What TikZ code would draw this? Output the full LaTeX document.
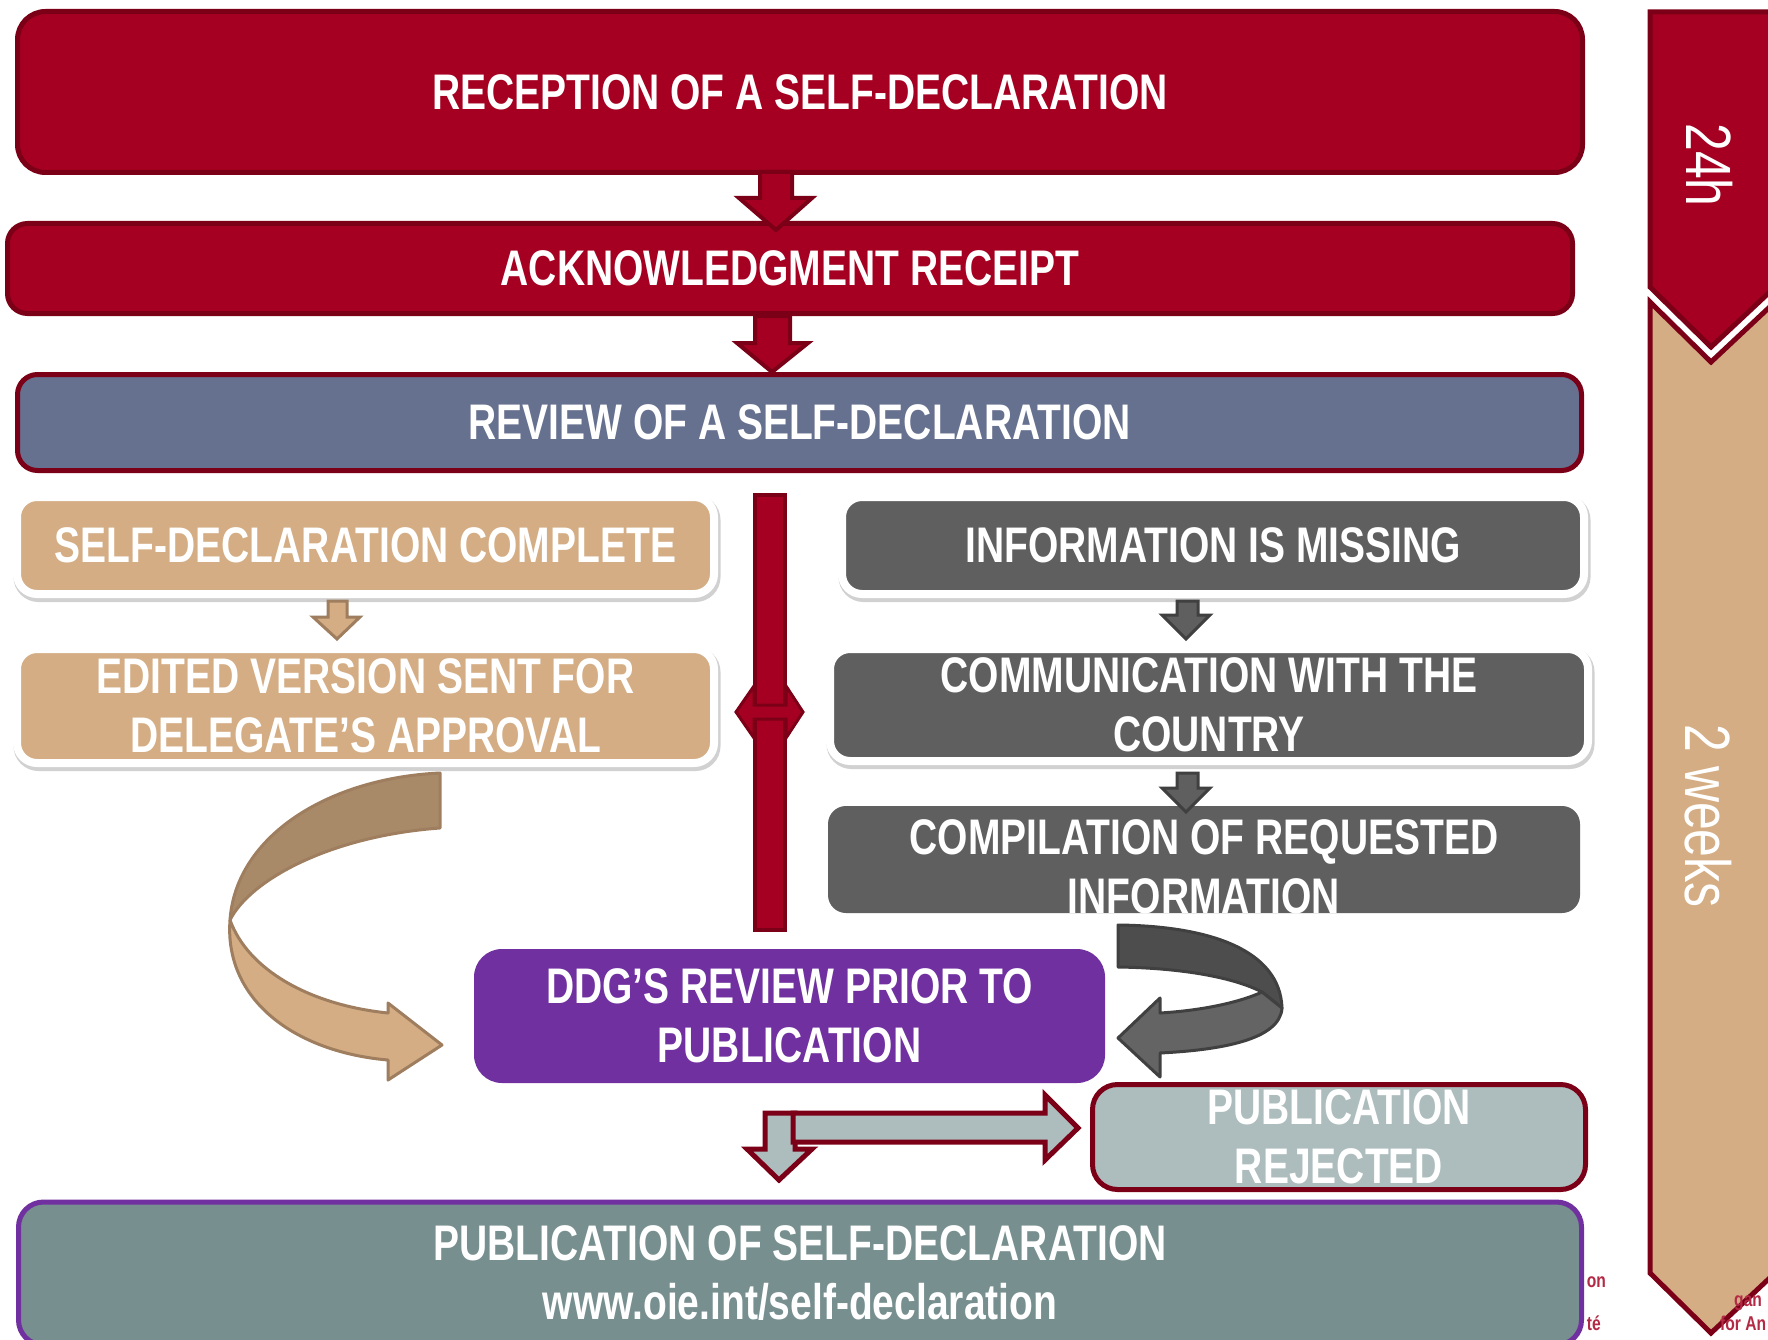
\documentclass[tikz,border=0pt]{standalone}
\usepackage{fontspec}
\newfontfamily\nf[FakeStretch=0.78]{Liberation Sans}
\usetikzlibrary{calc}
\definecolor{oiered}{HTML}{A50021}
\definecolor{oiedark}{HTML}{7B0017}
\definecolor{slate}{HTML}{66708F}
\definecolor{tanf}{HTML}{D4AD84}
\definecolor{tandk}{HTML}{A88968}
\definecolor{tanbd}{HTML}{9E7E5E}
\definecolor{grayf}{HTML}{5F5F5F}
\definecolor{graydk}{HTML}{4D4D4D}
\definecolor{graylt}{HTML}{646464}
\definecolor{graybd}{HTML}{404040}
\definecolor{ddgpurple}{HTML}{7030A0}
\definecolor{rejf}{HTML}{ADBCBC}
\definecolor{pubf}{HTML}{778F8F}
\definecolor{logored}{HTML}{B22A45}
\tikzset{
  lbl/.style={text=white, align=center, inner sep=0pt, outer sep=0pt,
    font=\nf\bfseries\fontsize{50}{59}\selectfont},
  redbox/.style={lbl, rectangle, draw=oiedark, line width=5pt, fill=oiered},
  revbox/.style={lbl, rectangle, draw=oiedark, line width=5pt, fill=slate, rounded corners=20pt},
  softbox/.style={lbl, rectangle, draw=white, line width=8pt, rounded corners=20pt,
    preaction={draw=black!18, line width=10pt, transform canvas={xshift=1.5pt, yshift=-3pt}}},
  tanbox/.style={softbox, fill=tanf},
  graybox/.style={softbox, fill=grayf},
  plaingray/.style={lbl, rectangle, fill=grayf, rounded corners=18pt},
  ddgbox/.style={lbl, rectangle, fill=ddgpurple, rounded corners=28pt},
  rejbox/.style={lbl, rectangle, fill=rejf, draw=oiedark, line width=5pt, rounded corners=25pt},
  pubbox/.style={lbl, rectangle, fill=pubf, draw=ddgpurple, line width=5pt, rounded corners=25pt},
  blockred/.style={fill=oiered, draw=oiedark, line width=4pt, line join=miter},
  blocktan/.style={fill=tanf, draw=tanbd, line width=3pt, line join=miter},
  blockgray/.style={fill=grayf, draw=graybd, line width=3pt, line join=miter},
  blockrej/.style={fill=rejf, draw=oiedark, line width=5pt, line join=miter},
  chev/.style={line width=5pt, draw=oiedark, line join=miter},
  vtext/.style={text=white, inner sep=0pt, rotate=-90, font=\nf\fontsize{64}{64}\selectfont},
  logo/.style={text=logored, inner sep=0pt, font=\nf\bfseries\fontsize{20}{22}\selectfont}
}
\begin{document}
\begin{tikzpicture}[x=1pt,y=-1pt]
\useasboundingbox (0,0) rectangle (1768,1340);
\fill[white] (0,0) rectangle (1768,1340);

% timeline chevrons
\filldraw[chev, fill=tanf] (1650,302) -- (1711,362) -- (1775,302) -- (1775,1273)
  -- (1711,1333) -- (1650,1273) -- cycle;
\filldraw[chev, fill=oiered] (1650,12) -- (1775,12) -- (1775,287) -- (1711,347)
  -- (1650,287) -- cycle;
\node[vtext] (h24) at (1710,165) {24h};
\node[vtext] (wk2) at (1708,816) {2 weeks};

% logo fragments
\node[logo, anchor=base east] (lg1) at (1606,1287) {on};
\node[logo, anchor=base east] (lg2) at (1601,1330) {té};
\node[logo, anchor=base west] (lg3) at (1734,1306) {gan};
\node[logo, anchor=base west] (lg4) at (1720,1330) {for An};

% top boxes
\node[redbox, rounded corners=28pt, minimum width=1565pt, minimum height=161pt]
  (rec) at (800,92) {RECEPTION OF A SELF-DECLARATION};
\node[redbox, rounded corners=20pt, minimum width=1565pt, minimum height=90pt]
  (ack) at (790,268.5) {ACKNOWLEDGMENT RECEIPT};
\node[revbox, minimum width=1564pt, minimum height=96pt]
  (rev) at (799.5,422.5) {REVIEW OF A SELF-DECLARATION};

% red block arrows
\filldraw[blockred] (760,172) -- (792,172) -- (792,198) -- (812,198) -- (776,230)
  -- (739,198) -- (760,198) -- cycle;
\filldraw[blockred] (755,316) -- (790,316) -- (790,343) -- (808,343) -- (772,372)
  -- (737,343) -- (755,343) -- cycle;

% left branch
\node[tanbox, minimum width=697pt, minimum height=97pt]
  (comp) at (365.5,545.5) {SELF-DECLARATION COMPLETE};
\node[tanbox, minimum width=697pt, minimum height=114pt]
  (edit) at (365.5,706) {EDITED VERSION SENT FOR\\DELEGATE’S APPROVAL};
\filldraw[blocktan] (328,601) -- (347,601) -- (347,617) -- (360,617) -- (337,639)
  -- (313,617) -- (328,617) -- cycle;

% right branch
\node[graybox, minimum width=742pt, minimum height=97pt]
  (miss) at (1213,545.5) {INFORMATION IS MISSING};
\node[graybox, minimum width=758pt, minimum height=112pt]
  (comm) at (1209,705) {COMMUNICATION WITH THE\\COUNTRY};
\node[plaingray, minimum width=752pt, minimum height=107pt]
  (compil) at (1204,859.5) {};
\node[lbl] (compilt) at (1204,866.5) {COMPILATION OF REQUESTED\\INFORMATION};
\filldraw[blockgray] (1177,601) -- (1198,601) -- (1198,615) -- (1210,615) -- (1186,639)
  -- (1162,615) -- (1177,615) -- cycle;
\filldraw[blockgray] (1177,773) -- (1198,773) -- (1198,788) -- (1210,788) -- (1186,812)
  -- (1162,788) -- (1177,788) -- cycle;

% central red bar with double arrow
\filldraw[blockred] (755,495) rectangle (785,930);
\filldraw[blockred, line width=3pt] (736,712) -- (754,686) -- (754,705) -- (786,705)
  -- (786,686) -- (803,712) -- (786,738) -- (786,719) -- (754,719) -- (754,738) -- cycle;

% tan curved arrow
\filldraw[fill=tandk, draw=tanbd, line width=3pt, line join=round]
  (440,773) .. controls (330,778) and (236,835) .. (230,920)
  .. controls (250,880) and (330,836) .. (440,828) -- cycle;
\filldraw[fill=tanf, draw=tanbd, line width=3pt, line join=round]
  (230,920) .. controls (224,1000) and (295,1052) .. (388,1060) -- (388,1080)
  -- (442,1045) -- (388,1003) -- (388,1013)
  .. controls (310,1005) and (248,970) .. (230,920) -- cycle;

% gray curved arrow
\filldraw[fill=graydk, draw=graybd, line width=3pt, line join=round]
  (1118,925) .. controls (1210,926) and (1280,950) .. (1282,1008)
  -- (1262,992) .. controls (1235,978) and (1185,968) .. (1118,967) -- cycle;
\filldraw[fill=graylt, draw=graybd, line width=3pt, line join=round]
  (1282,1008) .. controls (1280,1040) and (1220,1050) .. (1160,1053) -- (1160,1077)
  -- (1118,1038) -- (1160,998) -- (1160,1013)
  .. controls (1210,1010) and (1245,1000) .. (1262,992) -- cycle;

% DDG review
\node[ddgbox, minimum width=631pt, minimum height=134pt]
  (ddg) at (789.5,1016) {DDG’S REVIEW PRIOR TO\\PUBLICATION};

% rejected
\node[rejbox, minimum width=493pt, minimum height=105pt]
  (rej) at (1339,1137) {PUBLICATION\\REJECTED};

% publication arrows
\filldraw[blockrej] (765,1113) -- (795,1113) -- (795,1149) -- (812,1149) -- (779,1180)
  -- (747,1149) -- (765,1149) -- cycle;
\filldraw[blockrej] (793,1113) -- (1045,1113) -- (1045,1095) -- (1078,1128)
  -- (1045,1160) -- (1045,1142) -- (793,1142) -- cycle;

% publication
\node[pubbox, minimum width=1563pt, minimum height=143pt]
  (pub) at (800,1273.5) {PUBLICATION OF SELF-DECLARATION\\www.oie.int/self-declaration};
\end{tikzpicture}
\end{document}
